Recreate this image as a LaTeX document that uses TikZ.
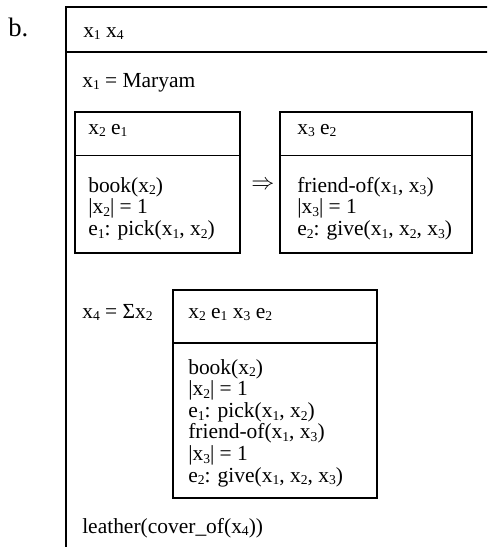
\documentclass[tikz,border=0pt]{standalone}
\usepackage{fontspec}
\setmainfont{Liberation Serif}
\newcommand\lo[1]{\raisebox{-0.3ex}{\fontsize{10.2}{10.2}\selectfont #1}}
\begin{document}
\begin{tikzpicture}[x=0.75pt,y=-0.75pt,
  txt/.style={anchor=base west, inner sep=0pt, font=\fontsize{16.1}{16.2}\selectfont},
  frame/.style={line width=1.4pt},
  box/.style={line width=1.2pt}]
\clip (0,0) rectangle (487,547);
\node[anchor=base west, inner sep=0pt, font=\fontsize{20}{22}\selectfont] (lbl) at (8,36) {b.};
% outer box
\coordinate (otl) at (66,7);
\coordinate (otr) at (495,7);
\coordinate (ohl) at (66,52);
\coordinate (ohr) at (495,52);
\coordinate (obl) at (66,555);
\draw[frame] (otr) -- (otl) -- (obl);
\draw[frame] (ohl) -- (ohr);
\node[txt] (h0) at (83,37) {x\lo1 x\lo4};
\node[txt] (mar) at (82,87) {x\lo1 = Maryam};
% box 1
\coordinate (b1nw) at (75,112);
\coordinate (b1se) at (240,253);
\draw[box] (b1nw) rectangle (b1se);
\draw[box] (75,155.5) -- (240,155.5);
\node[txt] (h1) at (88,134) {x\lo2 e\lo1};
\node[txt] (b1a) at (88,192) {book(x\lo2)};
\node[txt] (b1b) at (88,213.6) {|x\lo2| = 1};
\node[txt] (b1c) at (88,235.2) {e\lo1: pick(x\lo1, x\lo2)};
% arrow
\node[inner sep=0pt, font=\fontsize{16.1}{16.2}\selectfont] (arr) at (263,185) {$\Rightarrow$};
% box 3
\coordinate (b3nw) at (280,112);
\coordinate (b3se) at (472,253);
\draw[box] (b3nw) rectangle (b3se);
\draw[box] (280,155.5) -- (472,155.5);
\node[txt] (h3) at (297,134) {x\lo3 e\lo2};
\node[txt] (b3a) at (297,192) {friend-of(x\lo1, x\lo3)};
\node[txt] (b3b) at (297,213.6) {|x\lo3| = 1};
\node[txt] (b3c) at (297,235.2) {e\lo2: give(x\lo1, x\lo2, x\lo3)};
% sum
\node[txt] (sum) at (82,318) {x\lo4 = Σx\lo2};
% box 2
\coordinate (b2nw) at (173,290);
\coordinate (b2se) at (377,498);
\draw[box] (b2nw) rectangle (b2se);
\draw[box] (173,343) -- (377,343);
\node[txt] (h2) at (188,318) {x\lo2 e\lo1 x\lo3 e\lo2};
\node[txt] (c1) at (188,374) {book(x\lo2)};
\node[txt] (c2) at (188,395.6) {|x\lo2| = 1};
\node[txt] (c3) at (188,417.2) {e\lo1: pick(x\lo1, x\lo2)};
\node[txt] (c4) at (188,438.8) {friend-of(x\lo1, x\lo3)};
\node[txt] (c5) at (188,460.4) {|x\lo3| = 1};
\node[txt] (c6) at (188,482) {e\lo2: give(x\lo1, x\lo2, x\lo3)};
\node[txt] (lea) at (82,533) {leather(cover\_of(x\lo4))};
\end{tikzpicture}
\end{document}
